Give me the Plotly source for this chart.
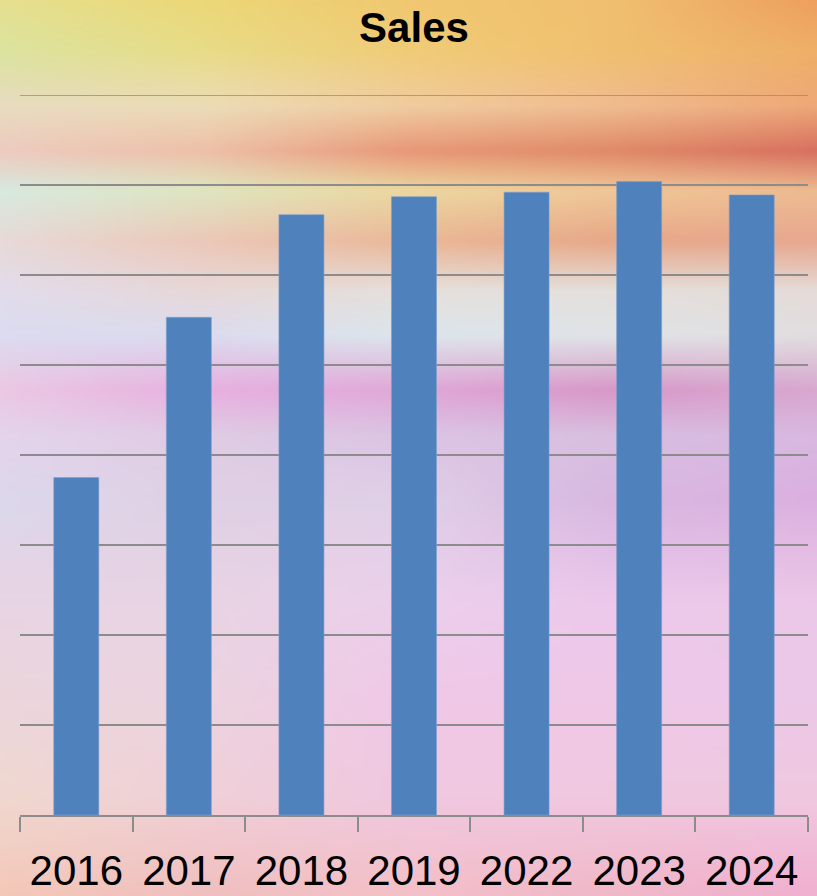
import base64
import struct
import zlib

import numpy as np
import plotly.graph_objects as go

# ---- data ----
years = ["2016", "2017", "2018", "2019", "2022", "2023", "2024"]
sales = [3.75, 5.53, 6.67, 6.87, 6.92, 7.04, 6.89]
y_grid_max = 8

# ---- background (pastel wash) ----
W, H = 817, 896
bg_cols_x = [0, 204, 408, 612, 817]
bg_rows = [
    (0,   ["#e6e090", "#ecd878", "#f0c870", "#f0c070", "#eea060"]),
    (50,  ["#dce4a0", "#e8dc88", "#f0cc78", "#f0c070", "#eeb068"]),
    (105, ["#e8dcc0", "#ecdcb8", "#f0cca0", "#f0bc90", "#eea878"]),
    (150, ["#eecbc0", "#eec0a8", "#e89878", "#e08a68", "#d87060"]),
    (190, ["#d8eae0", "#dfe6c0", "#ecd8a0", "#f0c898", "#eebc90"]),
    (240, ["#e8dad8", "#ecc8b8", "#eab898", "#e8a888", "#e8a890"]),
    (290, ["#e2dcec", "#e8d8d8", "#e6e0dc", "#e4e0dc", "#e4dcd8"]),
    (335, ["#dcdcf0", "#dcdcf0", "#dce6ec", "#e0e4e8", "#e2dee0"]),
    (390, ["#ecc8e4", "#e8b0e0", "#e0a8d8", "#d898c8", "#d8a8d0"]),
    (435, ["#e4d4ec", "#e0cce4", "#dcc4e4", "#d8c0e0", "#d8b8e0"]),
    (500, ["#dcd8ec", "#e0d0e4", "#e0d0e8", "#d8b8e0", "#dcb0e0"]),
    (600, ["#e8d4e4", "#e8d4e4", "#ecd0ec", "#ecc8ec", "#ecc8e8"]),
    (700, ["#ecd6dc", "#ecd4e0", "#f0c8e8", "#f0c8e8", "#ecc8e8"]),
    (800, ["#f0d8d0", "#f0d0d8", "#f0c8e0", "#f0c8e0", "#f0c8e0"]),
    (896, ["#f4c8b8", "#f0c0c0", "#f4c0c8", "#f0b8c8", "#f0b0d0"]),
]


def hex_rgb(h):
    h = h.lstrip("#")
    return [int(h[i:i + 2], 16) for i in (0, 2, 4)]


def make_bg(w, h):
    ry = np.array([r[0] for r in bg_rows], dtype=float)
    grid = np.array([[hex_rgb(c) for c in r[1]] for r in bg_rows], dtype=float)
    xs = np.linspace(0, W, w)
    ys = np.linspace(0, H, h)
    tmp = np.zeros((len(bg_rows), w, 3))
    for i in range(len(bg_rows)):
        for c in range(3):
            tmp[i, :, c] = np.interp(xs, bg_cols_x, grid[i, :, c])
    out = np.zeros((h, w, 3))
    for j in range(w):
        for c in range(3):
            out[:, j, c] = np.interp(ys, ry, tmp[:, j, c])
    return np.clip(out, 0, 255).astype(np.uint8)


def png_uri(arr):
    h, w, _ = arr.shape
    raw = b"".join(b"\x00" + arr[r].tobytes() for r in range(h))

    def chunk(tag, data):
        c = struct.pack(">I", len(data)) + tag + data
        return c + struct.pack(">I", zlib.crc32(tag + data) & 0xFFFFFFFF)

    png = b"\x89PNG\r\n\x1a\n"
    png += chunk(b"IHDR", struct.pack(">IIBBBBB", w, h, 8, 2, 0, 0, 0))
    png += chunk(b"IDAT", zlib.compress(raw, 9))
    png += chunk(b"IEND", b"")
    return "data:image/png;base64," + base64.b64encode(png).decode()


bg_uri = png_uri(make_bg(205, 224))

# ---- layout geometry ----
ml, mr, mt, mb = 20, 9, 95, 81
pw, ph = W - ml - mr, H - mt - mb

fig = go.Figure(
    go.Bar(
        x=years,
        y=sales,
        marker=dict(color="#4f81bd", line=dict(color="#7ea0cf", width=0.6)),
        hoverinfo="x+y",
    )
)

fig.update_layout(
    width=W,
    height=H,
    margin=dict(l=ml, r=mr, t=mt, b=mb, autoexpand=False),
    paper_bgcolor="white",
    plot_bgcolor="rgba(0,0,0,0)",
    bargap=0.6,
    showlegend=False,
    title=dict(
        text="<b>Sales</b>",
        x=0.5,
        xref="paper",
        xanchor="center",
        y=1 - 27 / H,
        yref="container",
        yanchor="middle",
        font=dict(family="Liberation Sans, Arial, sans-serif", size=42, color="black"),
    ),
    images=[
        dict(
            source=bg_uri,
            xref="paper",
            yref="paper",
            x=-ml / pw,
            y=1 + mt / ph,
            sizex=W / pw,
            sizey=H / ph,
            xanchor="left",
            yanchor="top",
            sizing="stretch",
            layer="below",
        )
    ],
    shapes=[
        dict(
            type="line",
            xref="paper",
            yref="y",
            x0=0,
            x1=1,
            y0=y_grid_max,
            y1=y_grid_max,
            line=dict(color="#8c8c8c", width=1.5),
            layer="below",
        )
    ],
    xaxis=dict(
        type="category",
        automargin=False,
        showline=True,
        linecolor="#8c8c8c",
        linewidth=1.5,
        ticks="outside",
        tickson="boundaries",
        ticklen=15,
        tickwidth=1.5,
        tickcolor="#8c8c8c",
        showgrid=False,
        ticklabelstandoff=18,
        tickfont=dict(family="Liberation Sans, Arial, sans-serif", size=42, color="black"),
        fixedrange=True,
    ),
    yaxis=dict(
        range=[0, y_grid_max],
        automargin=False,
        dtick=1,
        showgrid=True,
        gridcolor="#8c8c8c",
        gridwidth=1.5,
        zeroline=False,
        showticklabels=False,
        fixedrange=True,
    ),
)

fig.write_html("out.html")
